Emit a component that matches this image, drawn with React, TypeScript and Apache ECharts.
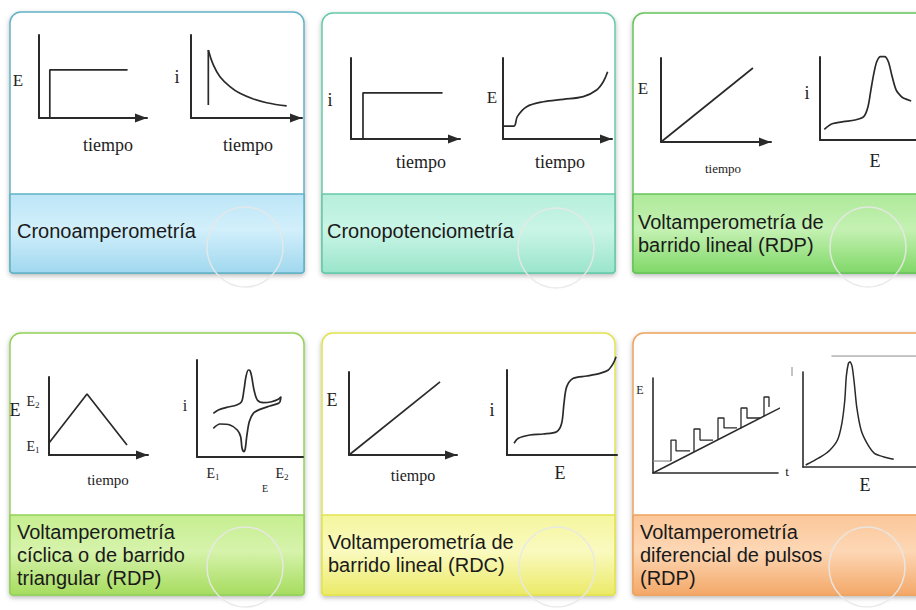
import React, { useEffect, useRef } from "react";
import * as echarts from "echarts";

// ---- Curve data (each mini plot uses 0..100 on both axes) ----

// Cronoamperometría
const potentialStep = [[10, 0], [10, 58], [82, 58]];
const currentSpike = [[15.6, 15.7], [15.6, 81.9]];
const currentDecay = [[15.6, 81.9], [20.1, 63.9], [26.1, 49.8], [35.1, 37.8], [44.1, 29.7], [56.2, 22.9], [68.2, 18.4], [86.2, 14.5]];

// Cronopotenciometría
const currentStep = [[11, 0], [11, 57], [84, 57]];
const potentialTransient = [[0, 16], [10.1, 16], [13.1, 27.6], [21.7, 39.9], [37, 46], [55.3, 49], [73.7, 52.3], [85.9, 60.5], [92, 70.7], [96, 83]];

// Voltamperometría de barrido lineal (RDP)
const rampRdp = [[0, 0], [83.6, 88.1]];
const peakRdp = [[4.5, 12.9], [12.1, 19.3], [24.3, 22.1], [36.4, 24.1], [45.5, 28.1], [50, 40.1], [53, 60.2], [56.1, 80.3], [59.1, 94.3], [63, 100.4], [67.3, 100.4], [71.2, 94.3], [75.2, 76.3], [79.4, 60.2], [84.8, 52.2], [87.3, 50.2], [95, 47]];

// Voltamperometría cíclica
const triangleWave = [[0, 15.4], [38.4, 78.2], [78.8, 12.8]];
const cvForward = [[15.4, 45.0], [20.1, 48.5], [28.0, 51.2], [37.5, 53.6], [42.1, 57.0], [44.3, 69.1], [46.2, 82.8], [48.4, 89.7], [50, 89.0], [51.6, 82.8], [53.8, 69.1], [56.9, 58.8], [62.6, 56.0], [70.4, 57.0], [76.7, 59.5], [79.2, 62.2]];
const cvReverse = [[78.3, 57.0], [76.7, 55.3], [68.9, 52.6], [59.4, 49.1], [53.1, 45.0], [49.3, 36.4], [46.9, 20.9], [45.6, 9.0], [44.3, 5.5], [42.5, 9.0], [41.2, 20.9], [38.0, 27.8], [31.1, 33.0], [21.7, 34.0], [15.4, 29.6]];

// Voltamperometría de barrido lineal (RDC)
const rampRdc = [[0, 0], [84.3, 88]];
const sigmoidRdc = [[6.4, 13.8], [10.3, 19.6], [20.9, 23.5], [33, 24.7], [45.2, 27.4], [49.7, 37.3], [51.8, 60.8], [54.3, 80.4], [60.3, 90.2], [72.5, 92.9], [84.5, 96.1], [92.1, 100], [96.6, 107.8], [99.1, 115.7]];

// Voltamperometría diferencial de pulsos
const dpvRamp = [[0, 0], [103.2, 69.5]];
const dpvInitial = [[0, 12.6], [14.4, 12.6]];
const pulseRise = [14.4, 32.8, 52, 70.4, 88.8];
const pulseFall = [18.4, 37.6, 56.8, 75.2, 92.8];
const pulseFrom = [12.6, 22.1, 34.8, 47.2, 59.8];
const pulseTop = [34.7, 46.3, 57.9, 68.4, 80];
const pulseLow = [23.2, 34.7, 47.4, 57.9, 69.5];
const stepEnd = [29.6, 48, 67.2, 85.6, 92.8];
const dpvPeak = [[2.4, 2.1], [8.1, 5.6], [16, 10.8], [23.9, 17.9], [30.5, 28.4], [34.4, 46], [37, 70.5], [38.3, 95.1], [40.2, 109.2], [41.7, 110.8], [43.5, 105.6], [45.4, 88.1], [47.5, 63.5], [51.4, 38.9], [56.7, 24.9], [63.2, 14.4], [71.1, 10.8], [80.3, 8.1]];
const dpvFrame = [[25.2, 116.8], [115, 116.8]];

// Card captions
const captions = [
  ["Cronoamperometría"],
  ["Cronopotenciometría"],
  ["Voltamperometría de", "barrido lineal (RDP)"],
  ["Voltamperometría", "cíclica o de barrido", "triangular (RDP)"],
  ["Voltamperometría de", "barrido lineal (RDC)"],
  ["Voltamperometría", "diferencial de pulsos", "(RDP)"],
];

// ---- Layout ----
const INK = "#2a2a2a";
const SERIF = "'Liberation Serif', 'DejaVu Serif', serif";
const SANS = "'Liberation Sans', Arial, sans-serif";
const CAPTION_SIZE = 20;

// plot boxes: left, top, width, height, arrow on x axis
const plotBoxes: [number, number, number, number, boolean][] = [
  [39, 35, 108, 83, true],
  [191, 35, 111, 83, true],
  [351, 58, 109, 81, true],
  [503, 58, 109, 81, true],
  [661, 58, 110, 84, true],
  [820, 57, 110, 83, false],
  [49, 377, 99, 78, true],
  [197, 360, 106, 97, false],
  [349, 372, 108, 83, true],
  [507, 370, 110, 85, false],
  [653, 378, 125, 95, false],
  [803, 372, 127, 95, false],
];

// cards: position, divider, border and band colours, caption and ring placement
const cards = [
  { x: 10, y: 12, w: 294, h: 261, d: 194, border: "#62b3c6", band: ["#bde6f7", "#d2effb", "#a0d8ef"], cx: 17, cy: 231, ex: 245, ey: 247 },
  { x: 322, y: 13, w: 293, h: 260, d: 194, border: "#66c9ab", band: ["#b6efdb", "#caf5e6", "#9ae5cb"], cx: 327, cy: 231, ex: 556, ey: 248 },
  { x: 633, y: 13, w: 300, h: 260, d: 194, border: "#66c35a", band: ["#aee99a", "#c4f1b2", "#80d868"], cx: 638, cy: 222, ex: 868, ey: 247 },
  { x: 10, y: 333, w: 294, h: 262, d: 515, border: "#93d15a", band: ["#c6ee90", "#d6f3ab", "#a6dc5f"], cx: 17, cy: 532, ex: 245, ey: 567 },
  { x: 322, y: 333, w: 293, h: 262, d: 515, border: "#e2e34e", band: ["#f5f69e", "#fafac0", "#ebea68"], cx: 328, cy: 542, ex: 557, ey: 567 },
  { x: 633, y: 333, w: 300, h: 262, d: 515, border: "#eea35e", band: ["#fbc799", "#fdd7b5", "#f3a868"], cx: 640, cy: 532, ex: 867, ey: 567 },
];

type Lbl = [string, number, number, number];
const plotLabels: Lbl[] = [
  ["E", 18, 80, 17], ["i", 177, 77, 18], ["tiempo", 108, 145, 18], ["tiempo", 248, 145, 18],
  ["i", 330, 100, 18], ["E", 492, 97, 17], ["tiempo", 421, 162, 18], ["tiempo", 560, 162, 18],
  ["E", 643, 88, 17], ["tiempo", 723, 168, 13], ["i", 807, 93, 18], ["E", 875, 161, 18],
  ["E", 15, 410, 18], ["tiempo", 108, 480, 15], ["i", 185, 405, 16], ["E", 265, 488, 10],
  ["E", 332, 400, 18], ["tiempo", 413, 475, 16], ["i", 492, 410, 18], ["E", 560, 473, 18],
  ["E", 640, 390, 12], ["t", 787, 471, 13], ["E", 865, 485, 18],
];
const subLabels: [string, number, number][] = [
  ["2", 33, 401], ["1", 33, 446], ["1", 213, 473], ["2", 282, 473],
];

function lineSeries(data: number[][], idx: number, opts: any = {}) {
  return {
    type: "line",
    data,
    xAxisIndex: idx,
    yAxisIndex: idx,
    symbol: "none",
    silent: true,
    clip: false,
    z: 5,
    smooth: opts.smooth ?? false,
    lineStyle: { color: opts.color ?? INK, width: opts.width ?? 1.7 },
  };
}

function buildOption() {
  const grid = plotBoxes.map(([left, top, width, height]) => ({ left, top, width, height, containLabel: false }));
  const axisLineStyle = { color: INK, width: 2 };
  const xAxis = plotBoxes.map(([, , , , arrow], i) => ({
    type: "value", gridIndex: i, min: 0, max: 100,
    axisLine: {
      show: true, onZero: false, lineStyle: { ...axisLineStyle, width: i === 10 || i === 11 ? 1.6 : 2 },
      symbol: arrow ? ["none", "triangle"] : ["none", "none"],
      symbolSize: [9, 12], symbolOffset: [0, -6],
    },
    axisTick: { show: false }, axisLabel: { show: false }, splitLine: { show: false },
  }));
  const yAxis = plotBoxes.map((_, i) => ({
    type: "value", gridIndex: i, min: 0, max: 100,
    axisLine: { show: true, onZero: false, lineStyle: { ...axisLineStyle, width: i === 10 || i === 11 ? 1.6 : 2 } },
    axisTick: { show: false }, axisLabel: { show: false }, splitLine: { show: false },
  }));

  const series: any[] = [
    lineSeries(potentialStep, 0),
    lineSeries(currentSpike, 1),
    lineSeries(currentDecay, 1, { smooth: 0.4 }),
    lineSeries(currentStep, 2),
    lineSeries(potentialTransient, 3, { smooth: 0.35 }),
    lineSeries(rampRdp, 4),
    lineSeries(peakRdp, 5, { smooth: 0.3 }),
    lineSeries(triangleWave, 6),
    lineSeries([...cvForward, ...cvReverse], 7, { smooth: 0.3 }),
    lineSeries(rampRdc, 8),
    lineSeries(sigmoidRdc, 9, { smooth: 0.3 }),
    lineSeries(dpvRamp, 10, { width: 1.5 }),
    lineSeries(dpvInitial, 10, { width: 1.2, color: "#8a8a8a" }),
    lineSeries(dpvPeak, 11, { smooth: 0.2, width: 1.5 }),
    lineSeries(dpvFrame, 11, { width: 1, color: "#8c8c8c" }),
  ];
  pulseRise.forEach((x, k) => {
    series.push(
      lineSeries(
        [[x, pulseFrom[k]], [x, pulseTop[k]], [pulseFall[k], pulseTop[k]], [pulseFall[k], pulseLow[k]], [stepEnd[k], pulseLow[k]]],
        10,
        { width: 1.3 }
      )
    );
  });

  const graphic: any[] = [];
  cards.forEach((c, k) => {
    graphic.push({
      type: "rect", z: 0, silent: true,
      shape: { x: c.x, y: c.y, width: c.w, height: c.h, r: [11, 11, 3, 3] },
      style: { fill: "#ffffff", stroke: c.border, lineWidth: 1.5, shadowBlur: 5, shadowOffsetY: 2, shadowColor: "rgba(0,0,0,0.28)" },
    });
    graphic.push({
      type: "rect", z: 1, silent: true,
      shape: { x: c.x, y: c.d, width: c.w, height: c.y + c.h - c.d, r: [0, 0, 3, 3] },
      style: {
        fill: { type: "linear", x: 0, y: 0, x2: 0, y2: 1, colorStops: [
          { offset: 0, color: c.band[0] }, { offset: 0.45, color: c.band[1] }, { offset: 1, color: c.band[2] },
        ] },
        stroke: c.border, lineWidth: 1.5,
      },
    });
    graphic.push({
      type: "ellipse", z: 2, silent: true,
      shape: { cx: c.ex, cy: c.ey, rx: 38, ry: 40 },
      style: { fill: "none", stroke: "rgba(232,232,232,0.9)", lineWidth: 1.5 },
    });
    // caption block: cy is the centre of its first line
    graphic.push({
      type: "text", z: 3, silent: true, x: c.cx, y: c.cy - 11.5,
      style: {
        text: captions[k].join("\n"), fill: "#1a1a1a", font: `${CAPTION_SIZE}px ${SANS}`,
        lineHeight: 23, align: "left", verticalAlign: "top",
      },
    });
  });

  plotLabels.forEach(([t, x, y, s]) => {
    graphic.push({
      type: "text", z: 3, silent: true, x, y,
      style: { text: t, fill: "#222", font: `${s}px ${SERIF}`, align: "center", verticalAlign: "middle" },
    });
  });
  subLabels.forEach(([d, x, y]) => {
    graphic.push({
      type: "text", z: 3, silent: true, x, y,
      style: {
        text: `{m|E}{s|${d}}`, align: "center", verticalAlign: "middle",
        rich: {
          m: { fontSize: 14, fontFamily: SERIF, fill: "#222", lineHeight: 16 },
          s: { fontSize: 9, fontFamily: SERIF, fill: "#222", verticalAlign: "bottom", lineHeight: 16 },
        },
      },
    });
  });
  // small mark where the current label sits on the pulse-peak plot
  graphic.push({
    type: "line", z: 3, silent: true,
    shape: { x1: 792, y1: 367, x2: 792, y2: 376 },
    style: { stroke: "#888", lineWidth: 1 },
  });

  return { animation: false, backgroundColor: "#ffffff", grid, xAxis, yAxis, series, graphic };
}

export default function App() {
  const ref = useRef<HTMLDivElement>(null);
  useEffect(() => {
    if (!ref.current) return;
    const chart = echarts.init(ref.current, undefined, { renderer: "svg" });
    chart.setOption(buildOption() as any);
    return () => chart.dispose();
  }, []);
  return (
    <div
      ref={ref}
      style={{ position: "absolute", left: 0, top: 0, width: 916, height: 610, background: "#fff" }}
    />
  );
}
